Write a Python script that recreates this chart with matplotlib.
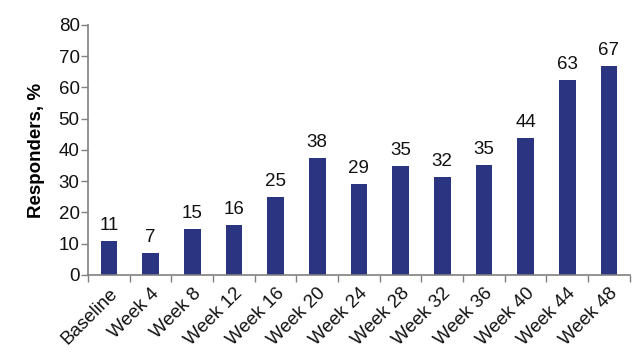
import matplotlib.pyplot as plt
import numpy as np

categories = ['Baseline', 'Week 4', 'Week 8', 'Week 12', 'Week 16', 'Week 20',
              'Week 24', 'Week 28', 'Week 32', 'Week 36', 'Week 40', 'Week 44',
              'Week 48']
heights = [10.9, 7.1, 14.8, 16.0, 25.0, 37.3, 29.1, 35.0, 31.5, 35.3, 43.9, 62.5, 66.8]
labels = ['11', '7', '15', '16', '25', '38', '29', '35', '32', '35', '44', '63', '67']

plt.rcParams['font.family'] = ['Liberation Sans', 'DejaVu Sans']
fs = 13.5

fig = plt.figure(figsize=(6.4, 3.55), dpi=100)
ax = fig.add_axes([0.1375, 0.2254, 0.8465, 0.7042])

x = np.arange(len(categories))
bars = ax.bar(x, heights, width=0.4, color='#2b3480', zorder=2)

for rect, lab in zip(bars, labels):
    ax.annotate(lab, (rect.get_x() + rect.get_width() / 2, rect.get_height()),
                xytext=(0, 5), textcoords='offset points',
                ha='center', va='bottom', fontsize=fs, color='#111111')

# Axes styling
ax.set_xlim(-0.5, len(categories) - 0.5)
ax.set_ylim(0, 80)
ax.set_yticks(range(0, 81, 10))
ax.set_xticks(np.arange(-0.5, len(categories), 1.0))
ax.set_xticklabels([])
ax.set_xticks(x, minor=True)
ax.set_xticklabels(categories, minor=True, rotation=45, ha='right',
                   rotation_mode='anchor', fontsize=fs, color='#111111')
ax.tick_params(axis='x', which='minor', length=0, pad=7)
ax.tick_params(axis='x', which='major', length=5, width=1, color='#808080')
ax.tick_params(axis='y', length=5, width=1, color='#808080', labelsize=fs,
               labelcolor='#111111', pad=1)

for side in ['top', 'right']:
    ax.spines[side].set_visible(False)
for side in ['left', 'bottom']:
    ax.spines[side].set_color('#808080')
    ax.spines[side].set_linewidth(1.2)

ax.set_ylabel('Responders, %', fontsize=fs, fontweight='bold', labelpad=10)

fig.savefig('out.png', dpi=100)
